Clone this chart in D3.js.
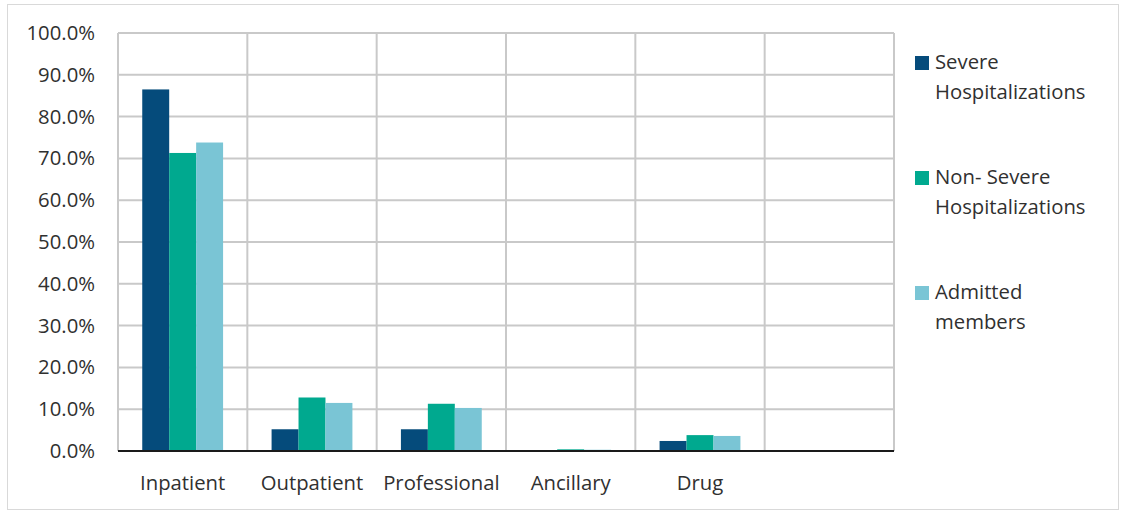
<!DOCTYPE html>
<html><head><meta charset="utf-8">
<script src="https://cdn.jsdelivr.net/npm/d3@7"></script>
<style>body{margin:0;background:#fff;}svg{display:block;}</style>
</head><body>
<script>
const categories = ["Inpatient","Outpatient","Professional","Ancillary","Drug",""];
const seriesNames = ["Severe Hospitalizations","Non- Severe Hospitalizations","Admitted members"];
const severe    = [86.5, 5.2, 5.2, 0.1, 2.4, null];
const nonSevere = [71.3, 12.8, 11.3, 0.4, 3.8, null];
const admitted  = [73.8, 11.5, 10.3, 0.3, 3.6, null];
const yTicks = [0,10,20,30,40,50,60,70,80,90,100];
const legendLines = [["Severe","Hospitalizations"],["Non- Severe","Hospitalizations"],["Admitted","members"]];
const colors = ["#054B7B","#00A98F","#7AC5D5"];

(function(){
const W=1121,H=512;
const svg=d3.select("body").append("svg").attr("width",W).attr("height",H);
const font="'Segoe UI','Open Sans','Noto Sans',sans-serif";
const fs=20.3, tc="#303030";
svg.append("rect").attr("x",7.5).attr("y",4.5).attr("width",W-10).attr("height",H-7)
  .attr("fill","#fff").attr("stroke","#d9d9d9").attr("stroke-width",1);

const pL=118,pR=894,pT=33,pB=451;
const x=d3.scaleBand().domain(categories.map((c,i)=>i)).range([pL,pR]).paddingInner(0).paddingOuter(0);
const y=d3.scaleLinear().domain([0,100]).range([pB,pT]);
const xs=d3.scaleBand().domain(seriesNames).range([0,x.bandwidth()]).paddingOuter(0.9).paddingInner(0);

const g=svg.append("g");
g.selectAll(".hg").data(yTicks.filter(d=>d>0)).join("line")
 .attr("x1",pL).attr("x2",pR).attr("y1",d=>y(d)).attr("y2",d=>y(d))
 .attr("stroke","#c9c9c9").attr("stroke-width",2);
const vpos=categories.map((c,i)=>x(i)).concat([pR]);
g.selectAll(".vg").data(vpos).join("line")
 .attr("x1",d=>d).attr("x2",d=>d).attr("y1",pT).attr("y2",pB)
 .attr("stroke","#c9c9c9").attr("stroke-width",2);

const data=[severe,nonSevere,admitted];
data.forEach((arr,si)=>{
  g.append("g").selectAll("rect").data(arr.map((v,i)=>({v,i})).filter(d=>d.v!=null)).join("rect")
   .attr("x",d=>x(d.i)+xs(seriesNames[si]))
   .attr("width",xs.bandwidth())
   .attr("y",d=>y(d.v)).attr("height",d=>pB-y(d.v))
   .attr("fill",colors[si]);
});
g.append("line").attr("x1",pL).attr("x2",pR).attr("y1",pB).attr("y2",pB)
 .attr("stroke","#1a1a1a").attr("stroke-width",2);

const yAxis=d3.axisLeft(y).tickValues(yTicks).tickFormat(d=>d.toFixed(1)+"%").tickSize(0).tickPadding(23);
const ya=svg.append("g").attr("transform",`translate(${pL},0)`).call(yAxis);
ya.select(".domain").remove();
ya.selectAll("text").attr("font-family",font).attr("font-size",fs).attr("fill",tc);

const xAxis=d3.axisBottom(x).tickFormat(i=>categories[i]).tickSize(0).tickPadding(25);
const xa=svg.append("g").attr("transform",`translate(0,${pB})`).call(xAxis);
xa.select(".domain").remove();
xa.selectAll("text").attr("font-family",font).attr("font-size",fs).attr("fill",tc);

const legY=[63,178,293];
legendLines.forEach((lines,i)=>{
  svg.append("rect").attr("x",915).attr("y",legY[i]-7).attr("width",14).attr("height",14).attr("fill",colors[i]);
  lines.forEach((t,j)=>{
    svg.append("text").attr("x",935).attr("y",legY[i]+6+j*29.5)
     .attr("font-family",font).attr("font-size",fs).attr("fill",tc).text(t);
  });
});
})();
</script>
</body></html>
